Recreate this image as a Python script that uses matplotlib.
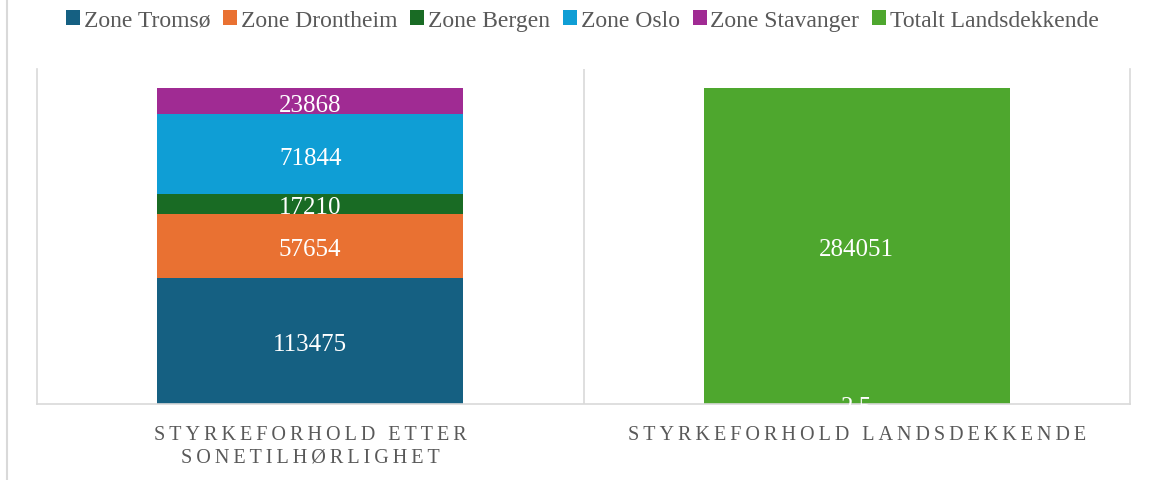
import matplotlib.pyplot as plt
from matplotlib.lines import Line2D

plt.rcParams['font.family'] = ['Liberation Serif', 'DejaVu Serif']

categories = ["STYRKEFORHOLD ETTER\nSONETILHØRLIGHET", "STYRKEFORHOLD LANDSDEKKENDE"]
series_names = ["Zone Tromsø", "Zone Drontheim", "Zone Bergen", "Zone Oslo",
                "Zone Stavanger", "Totalt Landsdekkende"]
tromso = [113475, 2.5]
drontheim = [57654, 0]
bergen = [17210, 0]
oslo = [71844, 0]
stavanger = [23868, 0]
totalt = [0, 284051]
colors = ["#156082", "#E97132", "#196B24", "#0F9ED5", "#A02B93", "#4EA72E"]

series = [tromso, drontheim, bergen, oslo, stavanger, totalt]


def spaced(text):
    # emulate wide letter spacing of the category axis
    return "\n".join("\u2009".join(line) for line in text.split("\n"))


fig = plt.figure(figsize=(11.51, 4.81), dpi=100)
ax = fig.add_axes([37 / 1151, 1 - 405 / 481, (1130 - 37) / 1151, (405 - 70) / 481])

x = list(range(len(categories)))
bottom = [0.0] * len(categories)
for name, vals, col in zip(series_names, series, colors):
    bars = ax.bar(x, vals, width=0.56, bottom=bottom, color=col, label=name, zorder=2)
    labels = [f"{v:g}" if v else "" for v in vals]
    anns = ax.bar_label(bars, labels=labels, label_type="center", color="white",
                        fontsize=18, zorder=3)
    for a in anns:
        a.xyann = (0, -2.5)
    bottom = [b + v for b, v in zip(bottom, vals)]

ax.set_xlim(-0.5, 1.5)
ax.set_ylim(0, 301000)
ax.set_yticks([])
ax.set_xticks(x)
ax.set_xticklabels([spaced(c) for c in categories], fontsize=14.5, color="#595959",
                   linespacing=1.25)
ax.tick_params(axis="x", length=0, pad=15)
for s in ["left", "right", "bottom"]:
    ax.spines[s].set_color("#D9D9D9")
    ax.spines[s].set_linewidth(1.2)
ax.spines["top"].set_visible(False)
ax.axvline(0.5, color="#D9D9D9", lw=1.2, zorder=1)

# outer chart border on the left
fig.add_artist(Line2D([7 / 1151, 7 / 1151], [0, 1], color="#D9D9D9", lw=1.5))

leg = fig.legend(loc="upper center", bbox_to_anchor=(0.506, 1.022), ncol=6, frameon=False,
                 fontsize=17, handlelength=0.6, handleheight=0.6, handletextpad=0.15,
                 columnspacing=0.55, labelcolor="#595959")

fig.savefig("out.png", dpi=100)
